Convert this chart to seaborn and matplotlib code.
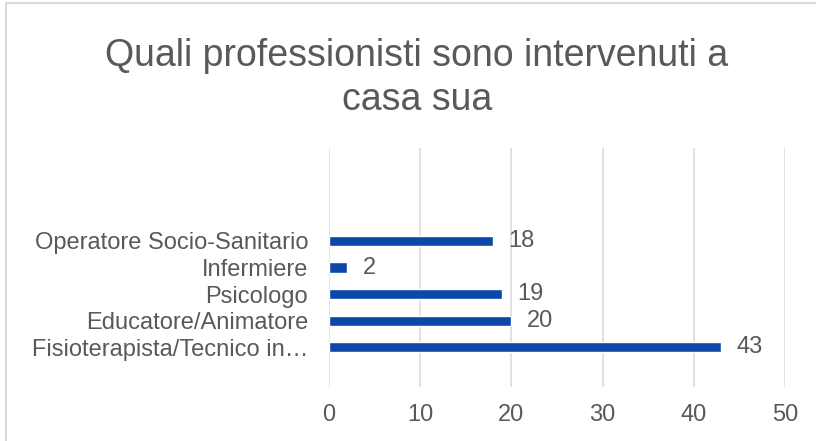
import matplotlib
matplotlib.use("Agg")
import matplotlib.pyplot as plt
import seaborn as sns
import pandas as pd
from matplotlib.patches import Rectangle

categories = ["Operatore Socio-Sanitario", "Infermiere", "Psicologo",
              "Educatore/Animatore", "Fisioterapista/Tecnico in…"]
values = [18, 2, 19, 20, 43]
xticks = [0, 10, 20, 30, 40, 50]
title = "Quali professionisti sono intervenuti a\ncasa sua"

sns.set_theme(style="white")
plt.rcParams['font.family'] = ['Liberation Sans', 'DejaVu Sans']

TXT = "#595959"
GRID = "#d9d9d9"
BAR = "#0D47A9"

df = pd.DataFrame({"cat": categories, "val": values})

fig = plt.figure(figsize=(8.16, 4.41), dpi=100)
W, H = 816, 441
ax = fig.add_axes([329 / W, 1 - 387 / H, (785 - 329) / W, (387 - 148) / H])

sns.barplot(data=df, x="val", y="cat", order=categories, color=BAR,
            width=0.38, saturation=1, ax=ax, orient="h")

ax.set_xlim(0, 50)
ax.set_ylim(5.5, -3.5)
ax.set_xticks(xticks)
ax.set_xticklabels([str(t) for t in xticks])
ax.xaxis.grid(True, color=GRID, linewidth=1.1)
ax.yaxis.grid(False)
ax.set_axisbelow(True)
for s in ax.spines.values():
    s.set_visible(False)
ax.tick_params(axis="both", length=0, labelsize=17, colors=TXT)
ax.tick_params(axis="y", pad=15)
ax.tick_params(axis="x", pad=12)
ax.set_xlabel("")
ax.set_ylabel("")

for i, v in enumerate(values):
    ax.annotate(str(v), xy=(v, i), xytext=(11, 0), textcoords="offset points",
                ha="left", va="center", fontsize=17, color=TXT)

fig.text(417 / W, 1 - 78 / H, title, ha="center", va="center", fontsize=27,
         color=TXT, linespacing=1.3)

fig.patches.append(Rectangle((6 / W, -0.1), 1.2, 1 - 3 / H + 0.1,
                             transform=fig.transFigure, fill=False,
                             edgecolor=GRID, linewidth=1.5, clip_on=False))

fig.savefig("out.png", dpi=100)
